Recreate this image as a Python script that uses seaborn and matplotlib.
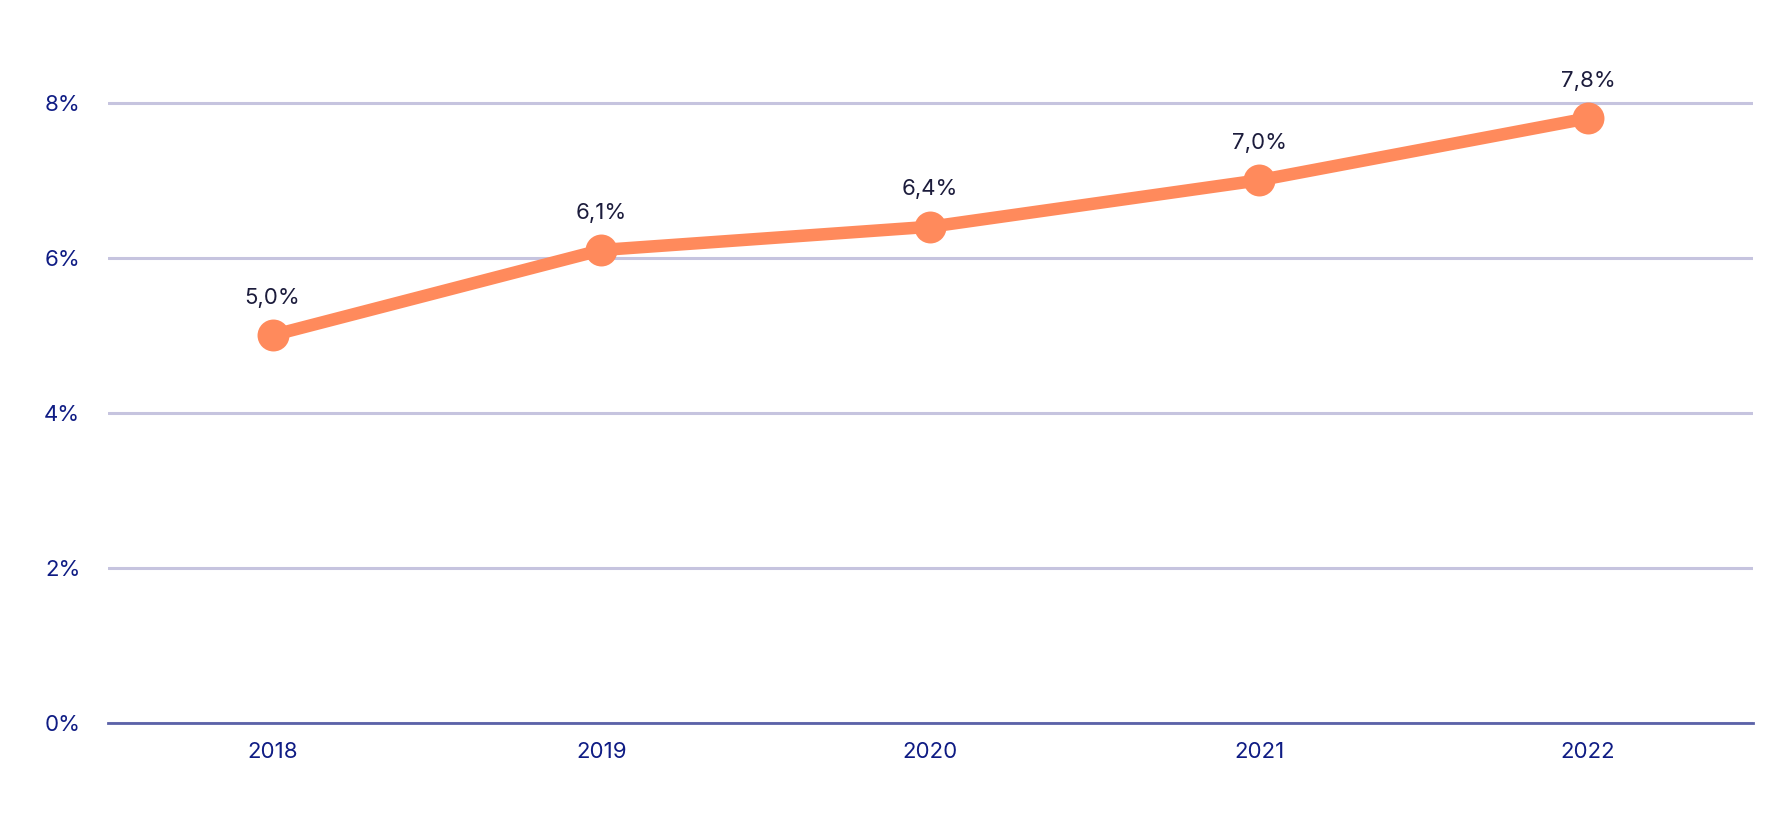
import matplotlib
matplotlib.use("Agg")
import matplotlib.pyplot as plt
import seaborn as sns
import pandas as pd

years = ["2018", "2019", "2020", "2021", "2022"]
values = [5.0, 6.1, 6.4, 7.0, 7.8]
labels = ["5,0%", "6,1%", "6,4%", "7,0%", "7,8%"]
yticks = [0, 2, 4, 6, 8]
ytick_labels = ["0%", "2%", "4%", "6%", "8%"]

sns.set_theme(style="white")
plt.rcParams['font.family'] = ['Inter', 'DejaVu Sans']

df = pd.DataFrame({"year": years, "value": values})

fig = plt.figure(figsize=(17.72, 8.27), dpi=100)
ax = fig.add_axes([0.061, 0.126, 0.928, 0.806])

line_color = "#FF8A5C"
sns.lineplot(data=df, x="year", y="value", ax=ax, color=line_color, linewidth=9,
             marker="o", markersize=23, markeredgewidth=0, sort=False, zorder=3)

for i, (v, t) in enumerate(zip(values, labels)):
    ax.annotate(t, (i, v), xytext=(0, 27), textcoords="offset points",
                ha="center", va="center", fontsize=16, color="#1c1c3c")

ax.set_xlim(-0.5, 4.5)
ax.set_ylim(0, 8.6)
ax.set_yticks(yticks)
ax.set_yticklabels(ytick_labels)
ax.set_xlabel("")
ax.set_ylabel("")
ax.grid(axis="y", color="#C6C4DF", linewidth=2.2)
ax.grid(axis="x", visible=False)
for s in ["top", "right", "left"]:
    ax.spines[s].set_visible(False)
ax.spines["bottom"].set_color("#5B62A8")
ax.spines["bottom"].set_linewidth(2)
ax.tick_params(axis="both", length=0, labelsize=16, labelcolor="#0F1C84")
ax.tick_params(axis="x", pad=14)
ax.tick_params(axis="y", pad=20)

fig.savefig("out.png", dpi=100)
